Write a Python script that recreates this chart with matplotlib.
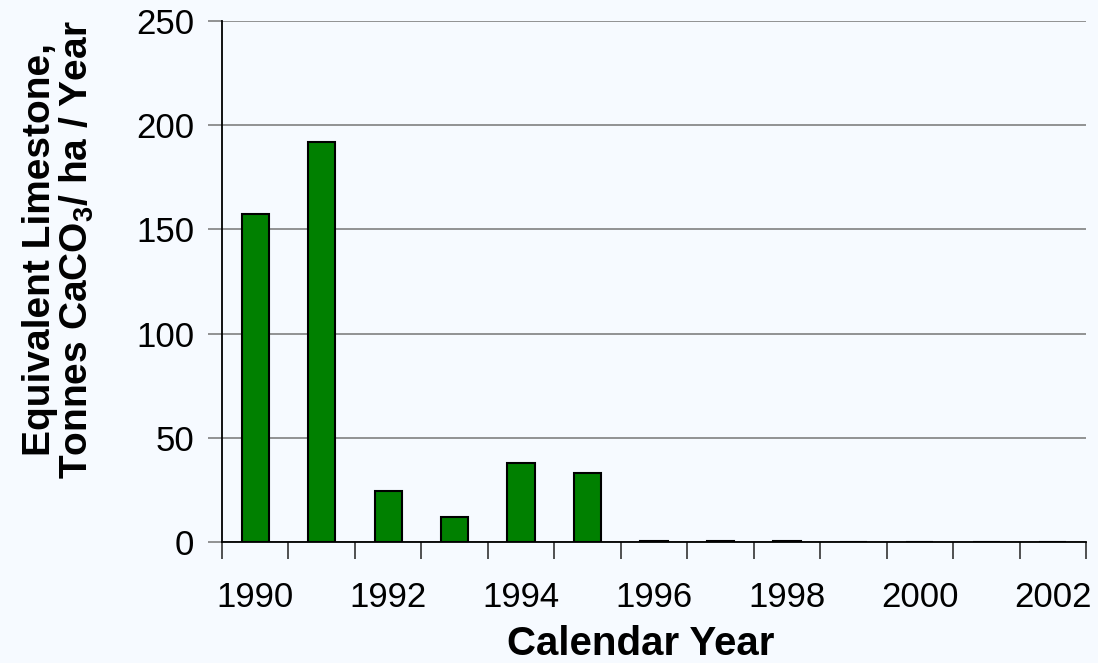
import matplotlib
matplotlib.use("Agg")
import matplotlib.pyplot as plt
from matplotlib import font_manager
import numpy as np

years = [1990, 1991, 1992, 1993, 1994, 1995, 1996, 1997, 1998, 1999, 2000, 2001, 2002]
values = [157.5, 192.0, 24.5, 12.0, 38.0, 33.0, 0.6, 0.4, 0.3, 0.0, 0.0, 0.0, 0.0]
yticks = [0, 50, 100, 150, 200, 250]

plt.rcParams['font.family'] = ['Liberation Sans', 'DejaVu Sans']
plt.rcParams['mathtext.fontset'] = 'custom'
plt.rcParams['mathtext.rm'] = 'Liberation Sans:bold'
plt.rcParams['mathtext.bf'] = 'Liberation Sans:bold'

names = {f.name for f in font_manager.fontManager.ttflist}
if 'Liberation Sans Narrow' in names:
    tick_font = dict(family='Liberation Sans Narrow', size=28)
else:
    tick_font = dict(family='Liberation Sans', size=25)

bg = '#F6FAFF'
fig = plt.figure(figsize=(10.98, 6.63), dpi=100, facecolor=bg)
ax = fig.add_axes([222/1098, 1 - 542/663, (1086 - 222)/1098, (542 - 21)/663])
ax.set_facecolor(bg)

x = np.arange(len(years))
ax.bar(x, values, width=0.41, color='#008000', edgecolor='black', linewidth=1.5, zorder=3)

ax.set_xlim(-0.5, len(years) - 0.5)
ax.set_ylim(0, 250)
ax.set_yticks(yticks)
ax.set_yticklabels([str(v) for v in yticks], fontdict=tick_font)
ax.yaxis.grid(True, color='#808080', linewidth=1.2, zorder=0)
ax.tick_params(axis='y', direction='out', length=10, width=1.2, color='#808080', pad=10)

ax.set_xticks(x[::2])
ax.set_xticklabels([str(y) for y in years[::2]], fontdict=tick_font)
ax.set_xticks(np.arange(-0.5, len(years) + 0.5, 1.0), minor=True)
ax.tick_params(axis='x', which='major', length=0, pad=28)
ax.tick_params(axis='x', which='minor', direction='out', length=12, width=1.2, color='#333333')

for s in ['top', 'right']:
    ax.spines[s].set_visible(False)
ax.spines['left'].set_linewidth(1.3)
ax.spines['bottom'].set_linewidth(1.3)
ax.spines['left'].set_zorder(4)
ax.spines['bottom'].set_zorder(4)

fig.text(641/1098, 1 - 644/663, 'Calendar Year', fontsize=29, fontweight='bold',
         ha='center', va='center')
fig.text(40/1098, 1 - 250/663, 'Equivalent Limestone,', fontsize=28, fontweight='bold',
         ha='center', va='center', rotation=90)
fig.text(77/1098, 1 - 250/663, r'Tonnes CaCO$_\mathbf{3}$/ ha / Year', fontsize=28,
         fontweight='bold', ha='center', va='center', rotation=90)

fig.savefig('out.png', dpi=100, facecolor=bg)
